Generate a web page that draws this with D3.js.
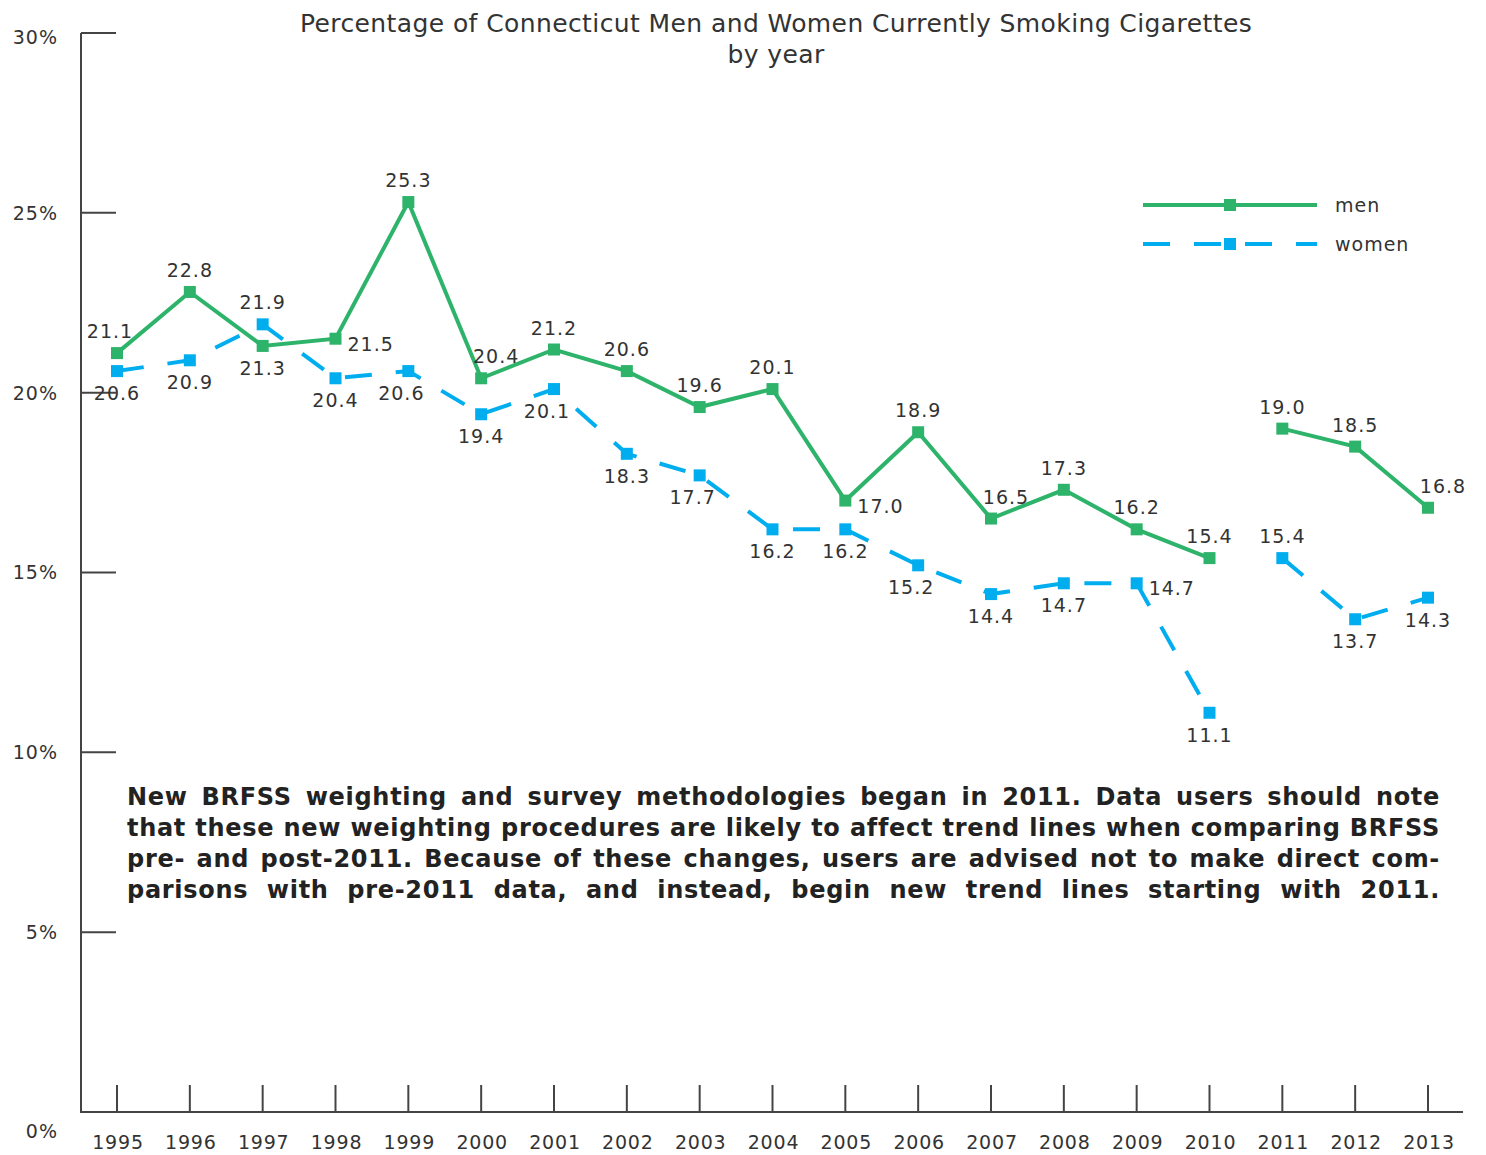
<!DOCTYPE html>
<html>
<head>
<meta charset="utf-8">
<script src="https://cdn.jsdelivr.net/npm/d3@7"></script>
<style>
  body { margin: 0; background: #fff; }
  svg text { font-family: Verdana, "DejaVu Sans", sans-serif; fill: #333; }
</style>
</head>
<body>
<svg width="1486" height="1155"></svg>
<script>
// data
const years = [1995, 1996, 1997, 1998, 1999, 2000, 2001, 2002, 2003, 2004,
               2005, 2006, 2007, 2008, 2009, 2010, 2011, 2012, 2013];
const men   = [21.1, 22.8, 21.3, 21.5, 25.3, 20.4, 21.2, 20.6, 19.6, 20.1,
               17.0, 18.9, 16.5, 17.3, 16.2, 15.4, 19.0, 18.5, 16.8];
const women = [20.6, 20.9, 21.9, 20.4, 20.6, 19.4, 20.1, 18.3, 17.7, 16.2,
               16.2, 15.2, 14.4, 14.7, 14.7, 11.1, 15.4, 13.7, 14.3];
const yTicks = [0, 5, 10, 15, 20, 25, 30];
const breakAfter = 2010; // new methodology from 2011 -> lines are not joined

// where each value label sits relative to its marker
// t = top, b = bottom, r = right; trailing l / R nudges left / right
const menLabelPos   = ["tl","t","b","r","t","tR","t","t","t","t","r","t","tR","t","t","t","t","t","tR"];
const womenLabelPos = ["b","b","t","b","bl","b","bl","b","bl","b","b","bl","b","b","r","b","t","b","b"];

const title = ["Percentage of Connecticut Men and Women Currently Smoking Cigarettes", "by year"];
const note = [
  "New BRFSS weighting and survey methodologies began in 2011. Data users should note",
  "that these new weighting procedures are likely to affect trend lines when comparing BRFSS",
  "pre- and post-2011. Because of these changes, users are advised not to make direct com-",
  "parisons with pre-2011 data, and instead, begin new trend lines starting with 2011."
];

const green = "#2eb36b";
const blue = "#00aeef";
const axisColor = "#444";

const svg = d3.select("svg");

const x = d3.scaleLinear().domain([1995, 2013]).range([117, 1428]);
const y = d3.scaleLinear().domain([0, 30]).range([1112, 33]);

// axes
const axisG = svg.append("g");
axisG.append("line")
    .attr("x1", 81).attr("x2", 81)
    .attr("y1", y(30)).attr("y2", y(0))
    .attr("stroke", axisColor).attr("stroke-width", 2);
axisG.append("line")
    .attr("x1", 80).attr("x2", 1463)
    .attr("y1", y(0)).attr("y2", y(0))
    .attr("stroke", axisColor).attr("stroke-width", 2);

axisG.selectAll("line.ytick")
    .data(yTicks.filter(d => d > 0))
    .enter().append("line")
    .attr("class", "ytick")
    .attr("x1", 81).attr("x2", 116)
    .attr("y1", d => y(d)).attr("y2", d => y(d))
    .attr("stroke", axisColor).attr("stroke-width", 2);

axisG.selectAll("text.ylab")
    .data(yTicks)
    .enter().append("text")
    .attr("class", "ylab")
    .attr("x", 58)
    .attr("y", d => y(d) + (d === 0 ? 19 : d === 30 ? 4 : 0))
    .attr("dy", "0.36em")
    .attr("text-anchor", "end")
    .style("font-size", "19px")
    .style("letter-spacing", "1px")
    .text(d => d + "%");

axisG.selectAll("line.xtick")
    .data(years)
    .enter().append("line")
    .attr("class", "xtick")
    .attr("x1", d => x(d)).attr("x2", d => x(d))
    .attr("y1", y(0) - 27).attr("y2", y(0))
    .attr("stroke", axisColor).attr("stroke-width", 2);

axisG.selectAll("text.xlab")
    .data(years)
    .enter().append("text")
    .attr("class", "xlab")
    .attr("x", d => x(d) + 1)
    .attr("y", 1149)
    .attr("text-anchor", "middle")
    .style("font-size", "19px")
    .style("letter-spacing", "0.8px")
    .text(d => d);

// title
svg.selectAll("text.title")
    .data(title)
    .enter().append("text")
    .attr("class", "title")
    .attr("x", 776)
    .attr("y", (d, i) => 32 + i * 31)
    .attr("text-anchor", "middle")
    .style("font-size", "25px")
    .style("letter-spacing", "0.4px")
    .text(d => d);

// series
const line = d3.line()
    .x(d => x(d.year))
    .y(d => y(d.v));

function toPoints(vals) {
    return years.map((yr, i) => ({year: yr, v: vals[i]}));
}

function labelX(d, pos) {
    let px = x(d.year);
    if (pos[0] === "r") px += 12;
    if (pos.endsWith("l")) px -= 7;
    if (pos.endsWith("R")) px += 15;
    return px;
}

function labelY(d, pos) {
    if (pos[0] === "t") return y(d.v) - 15;
    if (pos[0] === "b") return y(d.v) + 29;
    return y(d.v) + 12;
}

function drawSeries(vals, color, dash, labelPos) {
    const pts = toPoints(vals);
    const g = svg.append("g");
    const parts = [pts.filter(p => p.year <= breakAfter), pts.filter(p => p.year > breakAfter)];
    parts.forEach(part => {
        g.append("path")
            .datum(part)
            .attr("fill", "none")
            .attr("stroke", color)
            .attr("stroke-width", 4)
            .attr("stroke-dasharray", dash)
            .attr("d", line);
    });
    g.selectAll("rect")
        .data(pts)
        .enter().append("rect")
        .attr("x", d => x(d.year) - 6)
        .attr("y", d => y(d.v) - 6)
        .attr("width", 12).attr("height", 12)
        .attr("fill", color);
    g.selectAll("text")
        .data(pts)
        .enter().append("text")
        .attr("x", (d, i) => labelX(d, labelPos[i]))
        .attr("y", (d, i) => labelY(d, labelPos[i]))
        .attr("text-anchor", (d, i) => labelPos[i] === "r" ? "start" : "middle")
        .style("font-size", "19px")
        .style("letter-spacing", "1px")
        .text(d => d.v.toFixed(1));
}

drawSeries(women, blue, "27,24", womenLabelPos);
drawSeries(men, green, null, menLabelPos);

// legend
const legend = svg.append("g");
const legendItems = [
    {name: "men", color: green, dash: null, y: 205},
    {name: "women", color: blue, dash: "27,24", y: 244}
];
legendItems.forEach(it => {
    legend.append("line")
        .attr("x1", 1143).attr("x2", 1317)
        .attr("y1", it.y).attr("y2", it.y)
        .attr("stroke", it.color).attr("stroke-width", 4)
        .attr("stroke-dasharray", it.dash);
    legend.append("rect")
        .attr("x", 1224).attr("y", it.y - 6)
        .attr("width", 12).attr("height", 12)
        .attr("fill", it.color);
    legend.append("text")
        .attr("x", 1335).attr("y", it.y + 7)
        .style("font-size", "19px")
        .style("letter-spacing", "1px")
        .text(it.name);
});

// justified note block
const noteLeft = 127, noteRight = 1440;
note.forEach((ln, li) => {
    const words = ln.split(" ");
    const g = svg.append("g");
    const ts = g.selectAll("text")
        .data(words)
        .enter().append("text")
        .attr("y", 805 + li * 31)
        .style("font-size", "24px")
        .style("font-weight", "bold")
        .style("letter-spacing", "0.7px")
        .style("fill", "#222")
        .text(d => d);
    const widths = [];
    ts.each(function() { widths.push(this.getComputedTextLength()); });
    const total = d3.sum(widths);
    const gap = (noteRight - noteLeft - total) / (words.length - 1);
    let cx = noteLeft;
    ts.attr("x", (d, i) => {
        const px = cx;
        cx += widths[i] + gap;
        return px;
    });
});
</script>
</body>
</html>
